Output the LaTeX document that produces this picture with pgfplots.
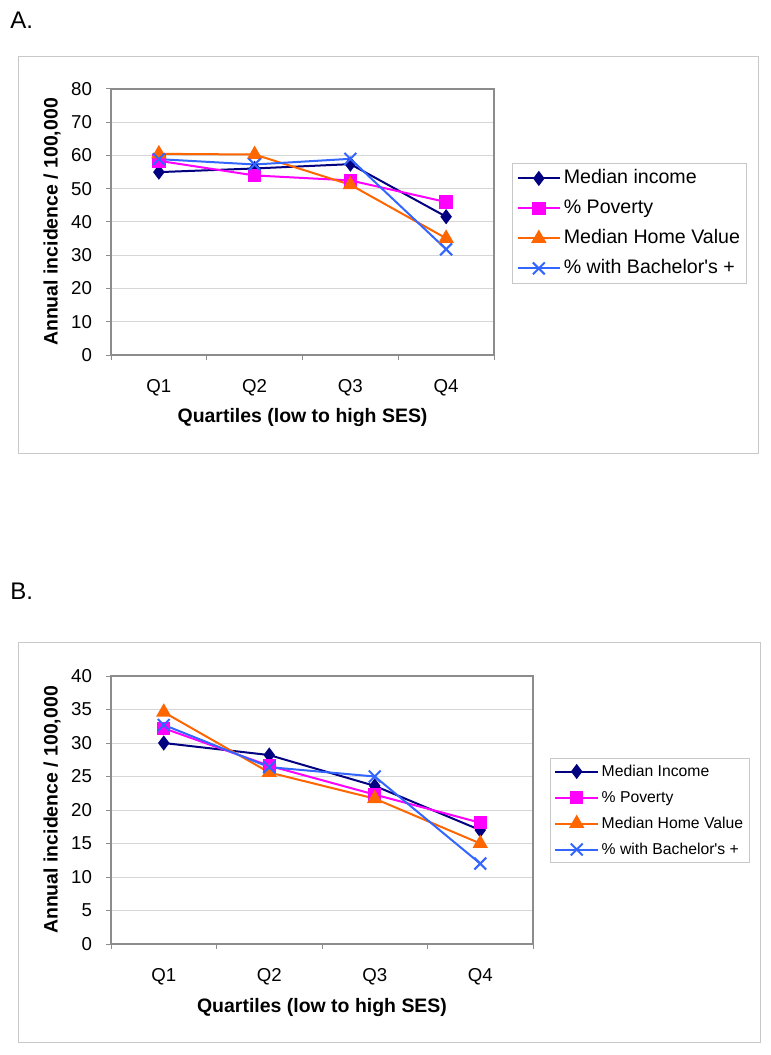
\documentclass[border=0pt]{standalone}
\usepackage{fontspec}
\setmainfont{Liberation Sans}
\usepackage{pgfplots}
\pgfplotsset{compat=1.18}
\definecolor{cNavy}{HTML}{000080}
\definecolor{cMag}{HTML}{FF00FF}
\definecolor{cOr}{HTML}{FF6600}
\definecolor{cBl}{HTML}{3366FF}
\definecolor{cFrame}{HTML}{8C8C8C}
\definecolor{cGrid}{HTML}{D6D6D6}
\definecolor{cBox}{HTML}{C8C8C8}
\pgfplotsset{
  panel/.style={
    scale only axis, anchor=north west,
    xmin=0.5, xmax=4.5,
    xtick={0.5,1.5,2.5,3.5,4.5}, xticklabels={Q1,Q2,Q3,Q4},
    x tick label as interval,
    tick align=outside, major tick length=3.75pt,
    tick style={cFrame, line width=0.75pt},
    axis line style={cFrame, line width=1.5pt},
    ymajorgrids, grid style={cGrid, line width=0.75pt},
    xtick pos=bottom, ytick pos=left,
    /pgf/number format/assume math mode=true,
    tick label style={font=\fontsize{14}{16}\selectfont},
    x tick label style={yshift=-11pt},
    y tick label style={xshift=-7pt},
    legend cell align=left,
    legend image code/.code={\draw[mark repeat=2,mark phase=2] plot coordinates {(0pt,0pt) (16pt,0pt) (32pt,0pt)};},
    every axis plot/.append style={line width=1.5pt},
    clip=false,
  },
  s1/.style={color=cNavy, mark=diamond*, mark size=4.5pt, mark options={solid}},
  s2/.style={color=cMag, mark=square*, mark size=4.3pt, mark options={solid}},
  s3/.style={color=cOr, mark=triangle*, mark size=5.2pt, mark options={solid}},
  s4/.style={color=cBl, mark=x, mark size=6.3pt, mark options={solid}},
}
\begin{document}
\begin{tikzpicture}
\useasboundingbox (0,0) rectangle (577.5pt,-791.25pt);
% ---------- Panel A ----------
\node[anchor=west, font=\fontsize{18}{21}\selectfont, inner sep=0pt] at (7.5pt,-15pt) {A.};
\draw[cBox, line width=0.75pt] (14pt,-42.75pt) rectangle (569pt,-339.75pt);
\begin{axis}[panel, at={(83.25pt,-66.75pt)}, width=287.25pt, height=199.5pt,
  ymin=0, ymax=80, ytick={0,10,...,80},
  legend style={at={(axis description cs:1.047,0.722)}, anchor=north west,
    draw=cBox, line width=0.75pt, font=\fontsize{14.7}{17}\selectfont,
    inner xsep=3pt, inner ysep=2.25pt, row sep=4.5pt,
    nodes={text height=11pt, text depth=3pt, inner ysep=2pt, inner xsep=2pt}}]
\addplot[s1] coordinates {(1,55.0) (2,56.1) (3,57.4) (4,41.6)};
\addlegendentry{Median income}
\addplot[s2] coordinates {(1,58.4) (2,54.0) (3,52.5) (4,46.0)};
\addlegendentry{\% Poverty}
\addplot[s3] coordinates {(1,60.5) (2,60.3) (3,51.2) (4,35.1)};
\addlegendentry{Median Home Value}
\addplot[s4] coordinates {(1,58.9) (2,57.3) (3,59.0) (4,31.8)};
\addlegendentry{\% with Bachelor\textquotesingle s +}
\end{axis}
\node[rotate=90, font=\bfseries\fontsize{14.6}{17}\selectfont] at (39pt,-166.5pt) {Annual incidence / 100,000};
\node[font=\bfseries\fontsize{14.6}{17}\selectfont] at (226.9pt,-313.5pt) {Quartiles (low to high SES)};
% ---------- Panel B ----------
\node[anchor=west, font=\fontsize{18}{21}\selectfont, inner sep=0pt] at (7.5pt,-443.25pt) {B.};
\draw[cBox, line width=0.75pt] (14pt,-481.5pt) rectangle (570pt,-781.5pt);
\begin{axis}[panel, at={(83.25pt,-507pt)}, width=316.5pt, height=201pt,
  ymin=0, ymax=40, ytick={0,5,...,40},
  legend style={at={(axis description cs:1.040,0.694)}, anchor=north west,
    draw=cBox, line width=0.75pt, font=\fontsize{11.8}{14}\selectfont,
    inner xsep=3pt, inner ysep=1.75pt, row sep=3.5pt,
    nodes={text height=9.5pt, text depth=2.5pt, inner ysep=2pt, inner xsep=2pt}}]
\addplot[s1] coordinates {(1,30.0) (2,28.2) (3,23.6) (4,17.0)};
\addlegendentry{Median Income}
\addplot[s2] coordinates {(1,32.2) (2,26.6) (3,22.3) (4,18.1)};
\addlegendentry{\% Poverty}
\addplot[s3] coordinates {(1,34.6) (2,25.6) (3,21.7) (4,15.0)};
\addlegendentry{Median Home Value}
\addplot[s4] coordinates {(1,32.7) (2,26.4) (3,25.0) (4,12.0)};
\addlegendentry{\% with Bachelor\textquotesingle s +}
\end{axis}
\node[rotate=90, font=\bfseries\fontsize{14.6}{17}\selectfont] at (39pt,-607.5pt) {Annual incidence / 100,000};
\node[font=\bfseries\fontsize{14.6}{17}\selectfont] at (241.5pt,-755.25pt) {Quartiles (low to high SES)};
\end{tikzpicture}
\end{document}
